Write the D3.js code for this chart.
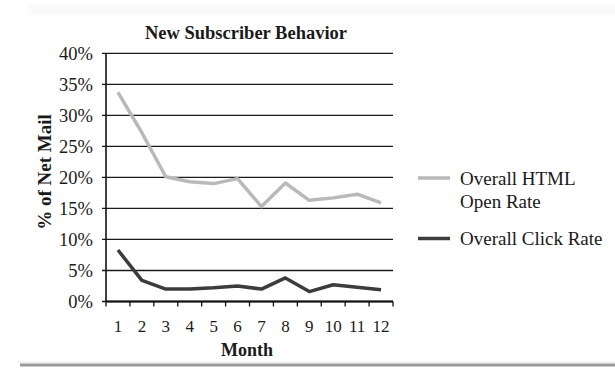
<!DOCTYPE html>
<html>
<head>
<meta charset="utf-8">
<script src="https://cdn.jsdelivr.net/npm/d3@7/dist/d3.min.js"></script>
<style>
  body { margin: 0; background: #fff; }
  text { font-family: "Liberation Serif", "Times New Roman", serif; fill: #1a1a1a; }
</style>
</head>
<body>
<svg width="615" height="368"></svg>
<script>
const months = [1, 2, 3, 4, 5, 6, 7, 8, 9, 10, 11, 12]
const openRate = [33.7, 27.2, 20.1, 19.3, 19.0, 19.8, 15.3, 19.1, 16.3, 16.7, 17.3, 15.9]
const clickRate = [8.3, 3.4, 2.0, 2.0, 2.2, 2.5, 2.0, 3.8, 1.6, 2.7, 2.3, 1.9]
const yTicks = [0, 5, 10, 15, 20, 25, 30, 35, 40]
const seriesNames = ['Overall HTML Open Rate', 'Overall Click Rate']

const svg = d3.select('svg')

const margin = { top: 53.3, right: 222, bottom: 66.5, left: 106 },
      width = 615 - margin.left - margin.right,
      height = 368 - margin.top - margin.bottom

// faint page band at top, gray rule at bottom
svg.append('rect').attr('x', 28).attr('y', 5).attr('width', 587).attr('height', 10).attr('fill', '#fafafa')
svg.append('line').attr('x1', 18).attr('x2', 615).attr('y1', 362).attr('y2', 362)
    .attr('stroke', '#e4e4e4').attr('stroke-width', 1)
svg.append('line').attr('x1', 20).attr('x2', 615).attr('y1', 365).attr('y2', 365)
    .attr('stroke', '#9a9a9a').attr('stroke-width', 3)

const chart = svg.append('g').attr('transform', `translate(${margin.left},${margin.top})`)

const x = d3.scaleBand().domain(months).range([0, width]).padding(0)
const y = d3.scaleLinear().domain([0, 40]).range([height, 0])
const cx = m => x(m) + x.bandwidth() / 2

// gridlines
chart.selectAll('.grid').data(yTicks).enter().append('line')
    .attr('x1', -4).attr('x2', width)
    .attr('y1', d => y(d)).attr('y2', d => y(d))
    .attr('stroke', '#1a1a1a').attr('stroke-width', 1.3)

chart.selectAll('.ylab').data(yTicks).enter().append('text')
    .attr('x', -13).attr('y', d => y(d)).attr('dy', '0.35em')
    .attr('text-anchor', 'end').attr('font-size', 18.5)
    .text(d => d + '%')

// axes
chart.append('line').attr('x1', 0).attr('x2', 0).attr('y1', 0).attr('y2', height)
    .attr('stroke', '#111').attr('stroke-width', 1.6)
chart.append('line').attr('x1', 0).attr('x2', width).attr('y1', height).attr('y2', height)
    .attr('stroke', '#111').attr('stroke-width', 1.8)

const bounds = months.map(m => x(m)).concat([width])
chart.selectAll('.xtick').data(bounds).enter().append('line')
    .attr('x1', d => d).attr('x2', d => d).attr('y1', height).attr('y2', height + 5)
    .attr('stroke', '#111').attr('stroke-width', 1.3)

chart.selectAll('.xlab').data(months).enter().append('text')
    .attr('x', d => cx(d)).attr('y', height + 25).attr('dy', '0.35em')
    .attr('text-anchor', 'middle').attr('font-size', 17)
    .text(d => d)

const line = d3.line().x((d, i) => cx(months[i])).y(d => y(d))

chart.append('path').datum(openRate).attr('d', line)
    .attr('fill', 'none').attr('stroke', '#b9b9b9').attr('stroke-width', 3.5)
    .attr('stroke-linejoin', 'round')
chart.append('path').datum(clickRate).attr('d', line)
    .attr('fill', 'none').attr('stroke', '#3c3c3c').attr('stroke-width', 3.5)
    .attr('stroke-linejoin', 'round')

// titles
svg.append('text').attr('x', 246).attr('y', 33).attr('dy', '0.35em')
    .attr('text-anchor', 'middle').attr('font-size', 18.5).attr('font-weight', 'bold')
    .text('New Subscriber Behavior')
svg.append('text').attr('x', 247).attr('y', 350).attr('dy', '0.35em')
    .attr('text-anchor', 'middle').attr('font-size', 18).attr('font-weight', 'bold')
    .text('Month')
svg.append('text').attr('transform', 'translate(44,172) rotate(-90)').attr('dy', '0.35em')
    .attr('text-anchor', 'middle').attr('font-size', 19).attr('font-weight', 'bold')
    .text('% of Net Mail')

// legend
const legend = svg.append('g').attr('transform', 'translate(418,0)')
legend.append('line').attr('x1', 0).attr('x2', 32).attr('y1', 178).attr('y2', 178)
    .attr('stroke', '#b9b9b9').attr('stroke-width', 3.5)
legend.append('text').attr('x', 42).attr('y', 178).attr('dy', '0.35em').attr('font-size', 19)
    .text('Overall HTML')
legend.append('text').attr('x', 42).attr('y', 201.5).attr('dy', '0.35em').attr('font-size', 19)
    .text('Open Rate')
legend.append('line').attr('x1', 0).attr('x2', 32).attr('y1', 238.5).attr('y2', 238.5)
    .attr('stroke', '#3c3c3c').attr('stroke-width', 3.5)
legend.append('text').attr('x', 42).attr('y', 238.5).attr('dy', '0.35em').attr('font-size', 19)
    .text(seriesNames[1])
</script>
</body>
</html>
